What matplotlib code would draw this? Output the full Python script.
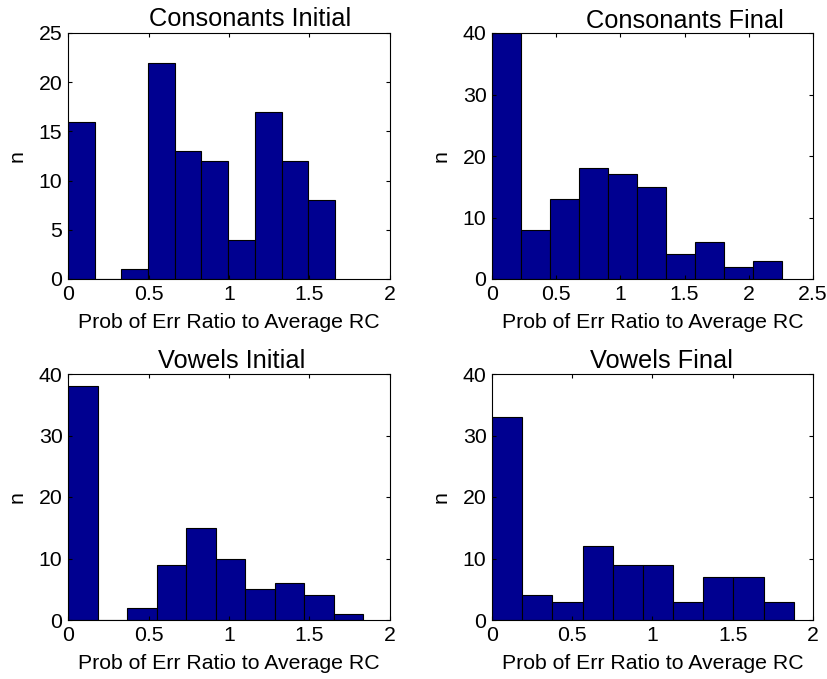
import numpy as np
import matplotlib
matplotlib.use("Agg")
import matplotlib.pyplot as plt
from matplotlib.ticker import FuncFormatter

plt.rcParams['font.family'] = ['Liberation Sans', 'DejaVu Sans']

titles = ["Consonants Initial", "Consonants Final", "Vowels Initial", "Vowels Final"]
cons_init_counts = [16, 0, 1, 22, 13, 12, 4, 17, 12, 8]
cons_final_counts = [40, 8, 13, 18, 17, 15, 4, 6, 2, 3]
vow_init_counts = [38, 0, 2, 9, 15, 10, 5, 6, 4, 1]
vow_final_counts = [33, 4, 3, 12, 9, 9, 3, 7, 7, 3]
bin_max = [1.658, 2.256, 1.834, 1.88]
xlims = [2, 2.5, 2, 2]
ylims = [25, 40, 40, 40]
yticks = [[0, 5, 10, 15, 20, 25], [0, 10, 20, 30, 40], [0, 10, 20, 30, 40], [0, 10, 20, 30, 40]]
xticks = [[0, 0.5, 1, 1.5, 2], [0, 0.5, 1, 1.5, 2, 2.5], [0, 0.5, 1, 1.5, 2], [0, 0.5, 1, 1.5, 2]]
counts_all = [cons_init_counts, cons_final_counts, vow_init_counts, vow_final_counts]

W, H = 828, 679
fig = plt.figure(figsize=(W / 100, H / 100), dpi=100)
boxes = [(68, 33, 390, 279), (492, 33, 813, 279), (68, 374, 390, 620), (492, 374, 813, 620)]
title_cx = [250, 685, 232, 662]
title_base = [26, 28, 368, 368]
fs = 15.3
tfs = 18.3
for i in range(4):
    l, t, r, b = boxes[i]
    ax = fig.add_axes([l / W, 1 - b / H, (r - l) / W, (b - t) / H])
    edges = np.linspace(0, bin_max[i], len(counts_all[i]) + 1)
    ax.bar(edges[:-1], counts_all[i], width=np.diff(edges), align='edge',
           color='#000090', edgecolor='black', linewidth=0.8)
    ax.set_xlim(0, xlims[i])
    ax.set_ylim(0, ylims[i])
    ax.set_xticks(xticks[i])
    ax.set_yticks(yticks[i])
    ax.xaxis.set_major_formatter(FuncFormatter(lambda v, p: "%g" % v))
    ax.tick_params(direction='in', length=3, width=0.8, top=True, right=True,
                   labelsize=fs, pad=4)
    for s in ax.spines.values():
        s.set_linewidth(0.8)
    fig.text(title_cx[i] / W, 1 - title_base[i] / H, titles[i], fontsize=tfs,
             ha='center', va='baseline')
    ax.set_xlabel("Prob of Err Ratio to Average RC", fontsize=fs, labelpad=6.5)
    ax.set_ylabel("n", fontsize=fs, labelpad=9)

fig.savefig("out.png", dpi=100)
